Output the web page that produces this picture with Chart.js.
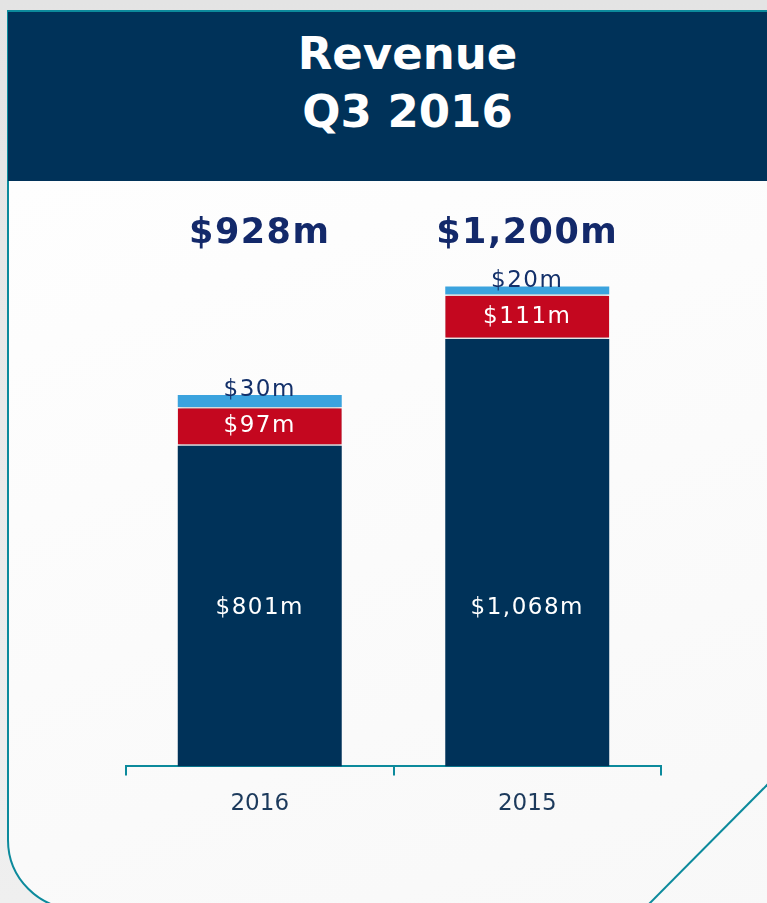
<!DOCTYPE html>
<html>
<head>
<meta charset="utf-8">
<script src="https://cdn.jsdelivr.net/npm/chart.js@4"></script>
<style>
    html, body { margin: 0; padding: 0; }
    body {
        width: 767px; height: 903px; overflow: hidden; position: relative;
        background: linear-gradient(180deg, #e4e4e4 0%, #efefef 100%);
        font-family: "DejaVu Sans", sans-serif;
    }
    .panel {
        position: absolute; left: 7px; top: 10px; width: 820px; height: 900px;
        border: 2px solid #0c8a9c; border-bottom-left-radius: 70px;
        background: linear-gradient(160deg, #ffffff 0%, #f8f8f8 100%);
        box-sizing: border-box;
    }
    .header {
        position: absolute; left: 8px; top: 12px; width: 759px; height: 169px;
        background: #003259; color: #fff; text-align: center;
        font-weight: bold; font-size: 45px; line-height: 58px;
        padding-top: 13px; box-sizing: border-box;
    }
    .header div { position: relative; left: 20px; }
    #diag { position: absolute; left: 0; top: 0; }
    #chartWrap { position: absolute; left: 0; top: 181px; width: 767px; height: 722px; }
</style>
</head>
<body>
<div class="panel"></div>
<div class="header"><div>Revenue</div><div>Q3 2016</div></div>
<svg id="diag" width="767" height="903">
    <line x1="768" y1="784" x2="649" y2="904" stroke="#0c8a9c" stroke-width="2"/>
</svg>
<div id="chartWrap"><canvas id="revenueChart" width="767" height="722"></canvas></div>

<script>
// Data
const years = ['2016', '2015'];
const coreRevenue = [801, 1068];
const redRevenue = [97, 111];
const blueRevenue = [30, 20];
const totalRevenue = [928, 1200];

const NAVY = '#003259';
const RED = '#c4071f';
const BLUE = '#3ba3de';
const TEAL = '#0c8a9c';

const fmt = v => '$' + v.toLocaleString('en-US') + 'm';

// red segment gets a soft shadow
const shadowPlugin = {
    id: 'shadow',
    beforeDatasetDraw(chart, args) {
        if (args.index !== 1) return;
        const ctx = chart.ctx;
        ctx.save();
        ctx.shadowColor = 'rgba(0,0,0,0.35)';
        ctx.shadowBlur = 6;
    },
    afterDatasetDraw(chart, args) {
        if (args.index !== 1) return;
        chart.ctx.restore();
    }
};

const labelPlugin = {
    id: 'barLabels',
    afterDatasetsDraw(chart) {
        const ctx = chart.ctx;
        const y = chart.scales.y;
        const area = chart.chartArea;
        ctx.save();
        ctx.textAlign = 'center';
        ctx.textBaseline = 'middle';

        years.forEach((yr, i) => {
            const core = chart.getDatasetMeta(0).data[i];
            const red = chart.getDatasetMeta(1).data[i];
            const blue = chart.getDatasetMeta(2).data[i];

            ctx.letterSpacing = '1.5px';
            ctx.font = '23px "DejaVu Sans"';
            ctx.fillStyle = '#ffffff';
            // core labels share one line across both bars
            ctx.fillText(fmt(coreRevenue[i]), core.x, y.getPixelForValue(395));
            ctx.fillText(fmt(redRevenue[i]), red.x, (red.y + red.base) / 2);
            ctx.fillStyle = '#13306a';
            ctx.fillText(fmt(blueRevenue[i]), blue.x, blue.y - 5);

            ctx.letterSpacing = '1.5px';
            ctx.font = 'bold 35px "DejaVu Sans"';
            ctx.fillStyle = '#13296a';
            ctx.fillText(fmt(totalRevenue[i]), core.x, area.top + 28);
        });
        ctx.restore();
    }
};

new Chart(document.getElementById('revenueChart'), {
    type: 'bar',
    data: {
        labels: years,
        datasets: [
            { label: 'Core', data: coreRevenue, backgroundColor: NAVY },
            { label: 'Red', data: redRevenue, backgroundColor: RED,
              borderColor: '#ffffff', borderWidth: { top: 1.5, bottom: 1.5 }, borderSkipped: false },
            { label: 'Blue', data: blueRevenue, backgroundColor: BLUE }
        ]
    },
    options: {
        responsive: false,
        animation: false,
        categoryPercentage: 1,
        barPercentage: 0.613,
        layout: { padding: { left: 126, right: 106, top: 25, bottom: 70 } },
        plugins: { legend: { display: false }, tooltip: { enabled: false } },
        scales: {
            x: {
                stacked: true,
                border: { color: TEAL, width: 2 },
                grid: { drawOnChartArea: false, drawTicks: true, tickLength: 9, color: TEAL, lineWidth: 2 },
                ticks: { color: '#1c3a5c', font: { family: 'DejaVu Sans', size: 23 }, padding: 15 }
            },
            y: { stacked: true, display: false, min: 0, max: 1400 }
        }
    },
    plugins: [shadowPlugin, labelPlugin]
});
</script>
</body>
</html>
